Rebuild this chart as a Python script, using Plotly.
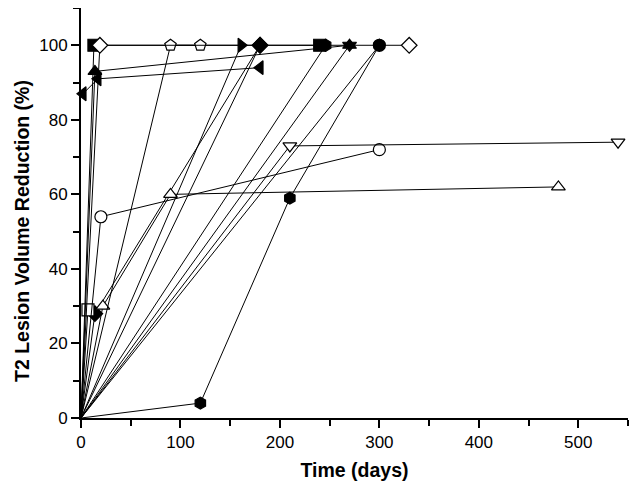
import plotly.graph_objects as go

# ---- data (days, % reduction) ----
diamond_open_x = [0, 19, 330];      diamond_open_y = [0, 100, 100]
square_fill_x = [0, 13, 240];       square_fill_y = [0, 100, 100]
pentagon_open_x = [0, 90, 120];     pentagon_open_y = [0, 100, 100]
tri_right_x = [0, 161];             tri_right_y = [0, 100]
diamond_fill_x = [0, 14, 180];      diamond_fill_y = [0, 28, 100]
diamond_fill2_x = [0, 180];         diamond_fill2_y = [0, 100]
tri_up_fill_x = [0, 14, 270];       tri_up_fill_y = [0, 93, 100]
tri_down_fill_x = [0, 270];         tri_down_fill_y = [0, 100]
circle_fill_x = [0, 300];           circle_fill_y = [0, 100]
hexagon_x = [0, 120, 210, 300];     hexagon_y = [0, 4, 59, 100]
hexagon2_x = [0, 246];              hexagon2_y = [0, 100]
tri_left_x = [2, 17, 180];          tri_left_y = [87, 91, 94]
circle_open_x = [0, 20, 300];       circle_open_y = [0, 54, 72]
tri_up_open_x = [0, 22, 90, 480];   tri_up_open_y = [0, 30, 60, 62]
tri_down_open_x = [0, 210, 540];    tri_down_open_y = [0, 73, 74]
square_open_x = [0, 7];             square_open_y = [0, 29]

x_ticks = [0, 100, 200, 300, 400, 500]
y_ticks = [0, 20, 40, 60, 80, 100]
x_title = "Time (days)"
y_title = "T2 Lesion Volume Reduction (%)"

series = [
    (diamond_fill_x, diamond_fill_y, "diamond", False),
    (square_open_x, square_open_y, "square", True),
    (diamond_fill2_x, diamond_fill2_y, "diamond", False),
    (tri_up_open_x, tri_up_open_y, "triangle-up", True),
    (circle_open_x, circle_open_y, "circle", True),
    (tri_down_open_x, tri_down_open_y, "triangle-down", True),
    (hexagon_x, hexagon_y, "hexagon", False),
    (hexagon2_x, hexagon2_y, "hexagon", False),
    (tri_right_x, tri_right_y, "triangle-right", False),
    (tri_up_fill_x, tri_up_fill_y, "triangle-up", False),
    (tri_down_fill_x, tri_down_fill_y, "triangle-down", False),
    (circle_fill_x, circle_fill_y, "circle", False),
    (tri_left_x, tri_left_y, "triangle-left", False),
    (square_fill_x, square_fill_y, "square", False),
    (pentagon_open_x, pentagon_open_y, "pentagon", True),
    (diamond_open_x, diamond_open_y, "diamond", True),
]

fig = go.Figure()
for xs, ys, sym, is_open in series:
    sizes = [0 if (x == 0 and y == 0) else 12 for x, y in zip(xs, ys)]
    fig.add_trace(go.Scatter(
        x=xs, y=ys, mode="lines+markers",
        line=dict(color="#000000", width=1),
        marker=dict(symbol=sym, size=sizes, opacity=1,
                    color="#ffffff" if is_open else "#000000",
                    line=dict(color="#000000", width=1.2)),
        cliponaxis=False, showlegend=False, hoverinfo="skip",
    ))

FONT = "Liberation Sans, Arial, sans-serif"
tick_font = dict(family=FONT, size=17, color="black")
title_font = dict(family=FONT, size=19.5, color="black")
fig.update_layout(
    width=640, height=490,
    margin=dict(l=73, r=20, t=0, b=80),
    paper_bgcolor="white", plot_bgcolor="white",
    xaxis=dict(
        range=[0, 550], tickvals=x_ticks, ticks="outside", ticklen=8, tickwidth=2,
        tickcolor="black",
        showline=True, linecolor="black", linewidth=2, showgrid=False, zeroline=False,
        tickfont=tick_font,
        minor=dict(dtick=50, ticks="outside", ticklen=6, tickwidth=1.5, tickcolor="black", showgrid=False),
        title=dict(text="<b>" + x_title + "</b>", font=title_font, standoff=12),
    ),
    yaxis=dict(
        range=[0, 110], tickvals=y_ticks, ticks="outside", ticklen=8, tickwidth=2,
        tickcolor="black",
        showline=True, linecolor="black", linewidth=2, showgrid=False, zeroline=False,
        tickfont=tick_font,
        minor=dict(dtick=10, ticks="outside", ticklen=6, tickwidth=1.5, tickcolor="black", showgrid=False),
    ),
    annotations=[dict(
        text="<b>" + y_title + "</b>", font=title_font, textangle=-90,
        xref="paper", yref="paper", x=-0.108, y=0.456,
        xanchor="center", yanchor="middle", showarrow=False,
    )],
)
fig.write_html("out.html")
